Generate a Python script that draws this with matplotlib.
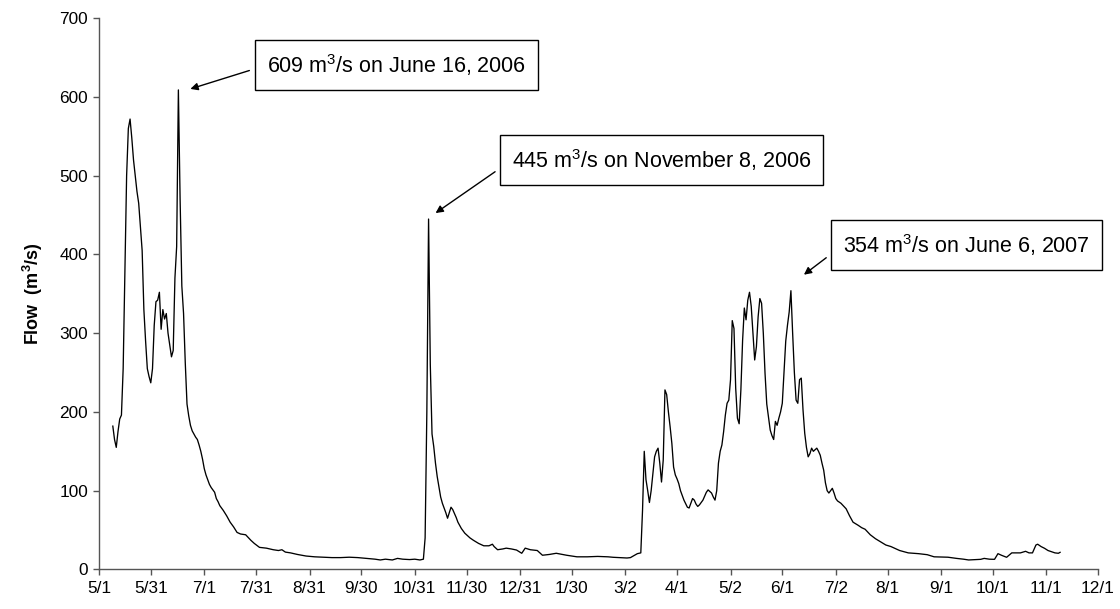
import matplotlib
matplotlib.use("Agg")
import matplotlib.pyplot as plt
import matplotlib.dates as mdates
from matplotlib.transforms import offset_copy
import pandas as pd

plt.rcParams['font.family'] = ['Liberation Sans', 'DejaVu Sans']
plt.rcParams['mathtext.default'] = 'regular'

# Daily mean flow, days counted from the start of the record
record_start = '2006-05-01'
day = [
    8, 9, 10, 11, 12, 13, 14, 15, 16, 17, 18, 19, 20, 21, 22, 23, 24, 25, 26, 27,
    28, 29, 30, 31, 32, 33, 34, 35, 36, 37, 38, 39, 40, 41, 42, 43, 44, 45, 46, 47,
    48, 49, 50, 51, 52, 53, 54, 55, 56, 57, 58, 59, 60, 61, 62, 63, 64, 65, 66, 67,
    68, 69, 70, 71, 72, 74, 76, 78, 80, 82, 85, 88, 90, 93, 97, 101, 104, 106, 108, 111,
    115, 120, 125, 130, 135, 140, 145, 150, 155, 160, 163, 166, 170, 173, 176, 180, 183, 186, 188, 189,
    190, 191, 192, 193, 194, 195, 196, 197, 198, 199, 200, 201, 202, 203, 204, 205, 206, 207, 208, 209,
    210, 212, 215, 217, 220, 223, 226, 228, 229, 231, 234, 236, 239, 242, 245, 247, 250, 254, 257, 261,
    265, 271, 277, 283, 289, 295, 298, 302, 306, 308, 312, 314, 315, 316, 317, 318, 319, 320, 321, 322,
    323, 324, 325, 326, 327, 328, 329, 330, 331, 332, 333, 334, 335, 336, 337, 339, 341, 342, 343, 344,
    345, 346, 347, 348, 349, 350, 351, 352, 353, 354, 355, 356, 357, 358, 359, 360, 361, 362, 363, 364,
    365, 366, 367, 368, 369, 370, 371, 372, 373, 374, 375, 376, 377, 378, 379, 380, 381, 382, 383, 384,
    385, 386, 387, 388, 389, 390, 391, 392, 393, 394, 395, 396, 397, 398, 399, 400, 401, 402, 403, 404,
    405, 406, 407, 408, 409, 410, 411, 412, 413, 414, 415, 416, 417, 418, 419, 420, 421, 422, 423, 424,
    425, 426, 427, 428, 430, 433, 435, 437, 440, 442, 444, 447, 450, 453, 456, 459, 464, 469, 475, 480,
    484, 488, 492, 497, 501, 504, 508, 511, 513, 516, 519, 521, 523, 526, 529, 534, 537, 539, 541, 543,
    544, 546, 548, 550, 552, 554, 556, 557,
]
flow = [
    182, 165, 155, 175, 191, 196, 255, 380, 500, 560, 572, 548, 520, 500, 480, 465, 435, 405, 330, 290,
    255, 245, 237, 255, 310, 340, 342, 352, 305, 330, 318, 325, 300, 285, 270, 278, 370, 410, 609, 470,
    360, 325, 262, 210, 195, 183, 176, 172, 168, 165, 158, 150, 140, 128, 120, 114, 108, 104, 101, 98,
    90, 86, 81, 78, 75, 68, 60, 54, 47, 45, 44, 37, 33, 28, 27, 25, 24, 25, 22, 21,
    19, 17, 16, 15.5, 15, 15, 15.5, 15, 14, 13, 12, 13, 12, 14, 13, 12.5, 13, 12, 13, 40,
    200, 445, 260, 172, 156, 135, 118, 105, 92, 84, 78, 72, 65, 72, 79, 76, 71, 66, 60, 56,
    52, 46, 40, 37, 33, 30, 30, 32, 29, 25, 26, 27, 26, 24.6, 20.5, 27, 25, 24, 18, 19,
    20.5, 18, 16, 16, 16.5, 16, 15.4, 15, 14.5, 15, 20, 21, 75, 150, 114, 100, 85, 100, 122, 143,
    150, 154, 135, 111, 139, 228, 222, 200, 181, 160, 130, 120, 115, 109, 100, 88, 79, 78, 84, 90,
    88, 83, 80, 82, 85, 88, 93, 98, 101, 99, 97, 92, 88, 100, 135, 150, 158, 175, 196, 211,
    215, 241, 316, 306, 230, 192, 185, 228, 291, 332, 317, 342, 352, 334, 300, 266, 283, 321, 344, 338,
    300, 249, 210, 194, 177, 170, 165, 188, 183, 192, 200, 211, 250, 290, 310, 327, 354, 300, 250, 215,
    211, 241, 243, 203, 173, 155, 143, 147, 154, 150, 152, 154, 150, 145, 135, 126, 110, 100, 97, 100,
    103, 97, 90, 87, 84, 77, 68, 60, 56, 53, 51, 44, 39, 35, 31, 29, 24, 21, 20, 18.7,
    16, 15.8, 15.5, 14, 13, 12, 12.5, 12.8, 14, 13, 12.8, 20, 18, 15.4, 21, 21, 23, 21, 21, 31,
    32, 29, 26.8, 24, 22.5, 21, 20.5, 21.7,
]

# Axis ticks
tick_dates = ['2006-05-01', '2006-05-31', '2006-07-01', '2006-07-31', '2006-08-31',
              '2006-09-30', '2006-10-31', '2006-11-30', '2006-12-31', '2007-01-30',
              '2007-03-02', '2007-04-01', '2007-05-02', '2007-06-01', '2007-07-02',
              '2007-08-01', '2007-09-01', '2007-10-01', '2007-11-01', '2007-12-01']
tick_labels = ['5/1', '5/31', '7/1', '7/31', '8/31', '9/30', '10/31', '11/30', '12/31',
               '1/30', '3/2', '4/1', '5/2', '6/1', '7/2', '8/1', '9/1', '10/1', '11/1', '12/1']
y_ticks = [0, 100, 200, 300, 400, 500, 600, 700]

# Annotated peak flows
peak_dates = ['2006-06-16', '2006-11-08', '2007-06-06']
peak_values = [609, 445, 354]

dates = pd.Timestamp(record_start) + pd.to_timedelta(day, unit='D')

fig = plt.figure(figsize=(11.2, 6.09), dpi=100)
ax = fig.add_axes([0.0884, 0.065, 0.8920, 0.905])

ax.plot(dates, flow, color='black', lw=0.95)

ax.set_xlim(pd.Timestamp(tick_dates[0]), pd.Timestamp(tick_dates[-1]))
ax.set_ylim(0, 700)
ax.set_xticks([pd.Timestamp(d) for d in tick_dates])
ax.set_xticklabels(tick_labels)
ax.set_yticks(y_ticks)

axis_color = '#555555'
for side in ('top', 'right'):
    ax.spines[side].set_visible(False)
for side in ('left', 'bottom'):
    ax.spines[side].set_color(axis_color)
    ax.spines[side].set_linewidth(1.0)
ax.tick_params(axis='both', direction='out', length=4, width=1.0,
               color=axis_color, labelsize=12.4, labelcolor='black', pad=4)

ax.set_ylabel('Flow  (m$^{3}$/s)', fontsize=13, fontweight='bold', labelpad=10)

# Callout boxes: text anchor in figure pixels, arrow-tip offset in pixels
box_text_pos = [(267, 544), (512, 449), (843, 364)]
tip_offsets = [(12, 1), (7, 6), (13, 16)]

for d, v, (tx, ty), (ox, oy) in zip(peak_dates, peak_values, box_text_pos, tip_offsets):
    ts = pd.Timestamp(d)
    label = f"{v} m$^{{3}}$/s on {ts.strftime('%B')} {ts.day}, {ts.year}"
    tip_trans = offset_copy(ax.transData, fig=fig, x=ox, y=oy, units='dots')
    ax.annotate(label, xy=(mdates.date2num(ts), v), xycoords=tip_trans,
                xytext=(tx, ty), textcoords='figure pixels',
                ha='left', va='center', fontsize=15.5,
                bbox=dict(boxstyle='square,pad=0.55', fc='white', ec='black', lw=1.0),
                arrowprops=dict(arrowstyle='-|>', color='black', lw=1.0,
                                mutation_scale=11, relpos=(0, 0.5),
                                shrinkA=4, shrinkB=0))

fig.savefig('out.png', dpi=100)
